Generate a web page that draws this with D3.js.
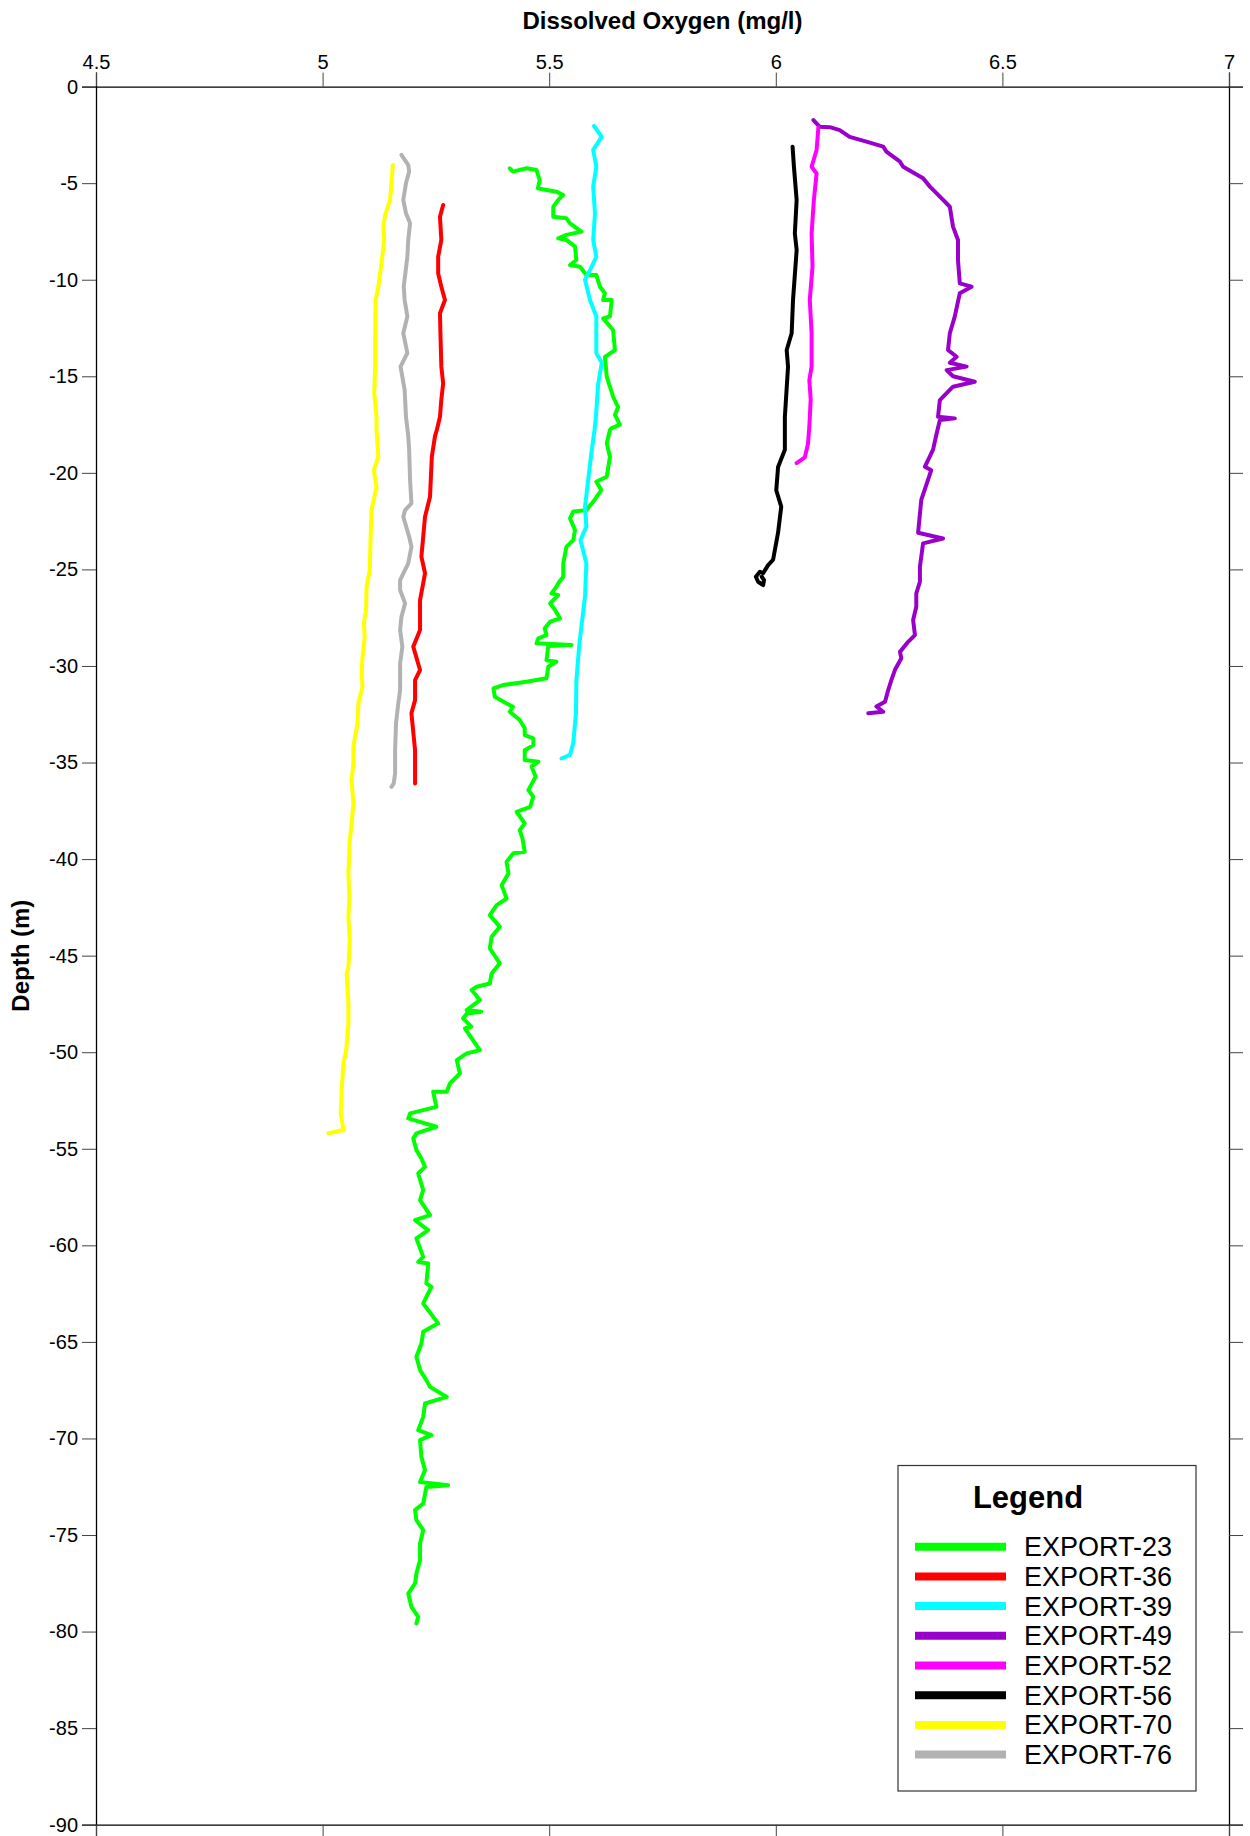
<!DOCTYPE html>
<html>
<head>
<meta charset="utf-8">
<script src="https://cdn.jsdelivr.net/npm/d3@7"></script>
<style>
  html, body { margin: 0; padding: 0; background: #fff; }
  svg { display: block; font-family: "Liberation Sans", Arial, sans-serif; }
</style>
</head>
<body>
<svg id="chart" width="1250" height="1836"></svg>
<script>
// Dissolved oxygen profiles: each entry is [DO (mg/l), depth (m)]
const export23 = [[5.413,-4.23],[5.42,-4.4],[5.45,-4.23],[5.472,-4.32],[5.479,-4.84],[5.475,-5.27],[5.494,-5.35],[5.516,-5.44],[5.531,-5.61],[5.52,-5.87],[5.509,-6.22],[5.509,-6.74],[5.538,-6.82],[5.546,-7.08],[5.571,-7.51],[5.538,-7.68],[5.52,-7.86],[5.538,-7.94],[5.557,-8.29],[5.56,-8.98],[5.546,-9.24],[5.568,-9.33],[5.582,-9.76],[5.604,-9.76],[5.612,-10.36],[5.623,-10.7],[5.619,-11.05],[5.638,-11.05],[5.634,-11.9],[5.619,-12.0],[5.641,-12.6],[5.645,-13.64],[5.623,-14.0],[5.627,-15.02],[5.641,-16.06],[5.652,-16.6],[5.645,-17.0],[5.656,-17.5],[5.637,-17.7],[5.634,-17.78],[5.627,-18.47],[5.634,-19.17],[5.627,-20.2],[5.604,-20.46],[5.615,-20.89],[5.597,-21.5],[5.582,-21.93],[5.553,-22.0],[5.546,-22.36],[5.557,-22.96],[5.553,-23.48],[5.538,-23.83],[5.531,-24.69],[5.531,-25.38],[5.52,-25.72],[5.516,-25.9],[5.505,-26.24],[5.52,-26.33],[5.502,-26.76],[5.513,-27.1],[5.524,-27.54],[5.502,-27.71],[5.49,-28.05],[5.494,-28.4],[5.476,-28.57],[5.472,-28.83],[5.549,-28.92],[5.498,-28.97],[5.494,-29.7],[5.516,-29.78],[5.498,-30.04],[5.494,-30.64],[5.45,-30.82],[5.398,-30.99],[5.377,-31.16],[5.38,-31.6],[5.406,-31.94],[5.42,-32.11],[5.413,-32.37],[5.435,-32.8],[5.446,-33.23],[5.446,-33.58],[5.465,-33.75],[5.465,-34.1],[5.446,-34.36],[5.446,-34.87],[5.476,-34.96],[5.461,-35.2],[5.47,-35.74],[5.454,-36.43],[5.465,-36.77],[5.458,-37.29],[5.428,-37.55],[5.446,-38.15],[5.435,-38.5],[5.441,-38.93],[5.446,-39.62],[5.421,-39.7],[5.406,-40.14],[5.41,-40.74],[5.395,-41.35],[5.406,-42.04],[5.384,-42.38],[5.369,-42.9],[5.391,-43.51],[5.373,-44.02],[5.369,-44.62],[5.391,-45.4],[5.373,-45.92],[5.369,-46.44],[5.34,-46.61],[5.329,-46.78],[5.347,-47.3],[5.318,-47.82],[5.35,-47.9],[5.318,-48.0],[5.31,-48.25],[5.328,-48.68],[5.314,-48.77],[5.347,-49.89],[5.318,-50.06],[5.296,-50.41],[5.303,-51.1],[5.281,-51.62],[5.274,-52.05],[5.244,-52.05],[5.251,-52.83],[5.193,-53.17],[5.189,-53.43],[5.251,-53.86],[5.207,-54.2],[5.2,-54.46],[5.207,-55.07],[5.218,-55.5],[5.226,-55.94],[5.211,-56.28],[5.222,-57.14],[5.215,-57.66],[5.237,-58.44],[5.204,-58.7],[5.233,-59.21],[5.207,-59.64],[5.222,-60.6],[5.211,-60.86],[5.233,-60.94],[5.229,-61.97],[5.24,-62.15],[5.222,-63.01],[5.255,-64.04],[5.222,-64.48],[5.218,-65.08],[5.207,-65.77],[5.215,-66.46],[5.229,-66.98],[5.237,-67.33],[5.274,-67.85],[5.226,-68.19],[5.222,-68.88],[5.211,-69.57],[5.24,-69.83],[5.215,-70.09],[5.218,-70.95],[5.226,-71.64],[5.215,-72.25],[5.277,-72.42],[5.229,-72.51],[5.222,-73.37],[5.204,-73.71],[5.207,-74.23],[5.222,-74.75],[5.215,-75.44],[5.215,-76.3],[5.207,-76.99],[5.204,-77.51],[5.189,-78.03],[5.196,-78.72],[5.211,-79.24],[5.207,-79.58]];

const export36 = [[5.266,-6.13],[5.259,-6.74],[5.262,-7.94],[5.255,-8.81],[5.255,-9.67],[5.262,-10.36],[5.27,-11.05],[5.259,-11.74],[5.26,-12.77],[5.262,-14.5],[5.266,-15.37],[5.262,-16.2],[5.259,-17.1],[5.252,-17.78],[5.248,-18.1],[5.241,-19.17],[5.237,-21.24],[5.226,-22.27],[5.218,-24.34],[5.226,-25.2],[5.215,-26.59],[5.215,-28.14],[5.2,-29.0],[5.215,-30.21],[5.204,-30.73],[5.204,-31.77],[5.196,-32.45],[5.204,-34.36],[5.204,-36.08]];

const export39 = [[5.599,-2.04],[5.616,-2.6],[5.597,-3.28],[5.604,-4.15],[5.597,-5.18],[5.601,-6.56],[5.597,-7.94],[5.604,-8.81],[5.59,-9.5],[5.579,-10.0],[5.59,-11.05],[5.604,-11.9],[5.604,-13.8],[5.616,-14.3],[5.608,-15.4],[5.603,-17.1],[5.6,-17.78],[5.593,-18.99],[5.586,-20.37],[5.579,-21.76],[5.582,-22.79],[5.569,-23.48],[5.582,-24.69],[5.579,-26.42],[5.571,-27.97],[5.566,-29.0],[5.56,-30.73],[5.559,-32.45],[5.553,-34.0],[5.546,-34.6],[5.527,-34.79]];

const export49 = [[6.083,-1.73],[6.097,-2.08],[6.119,-2.1],[6.141,-2.25],[6.163,-2.6],[6.2,-2.85],[6.237,-3.11],[6.244,-3.37],[6.274,-3.89],[6.281,-4.15],[6.325,-4.75],[6.34,-5.18],[6.362,-5.7],[6.384,-6.22],[6.391,-7.25],[6.402,-7.94],[6.402,-8.98],[6.406,-10.19],[6.432,-10.36],[6.406,-10.7],[6.395,-11.9],[6.384,-12.77],[6.38,-13.64],[6.399,-13.99],[6.384,-14.3],[6.421,-14.5],[6.377,-14.68],[6.391,-15.0],[6.439,-15.28],[6.391,-15.54],[6.362,-16.23],[6.358,-17.1],[6.395,-17.18],[6.362,-17.27],[6.355,-17.95],[6.347,-18.8],[6.336,-19.34],[6.329,-19.68],[6.343,-19.86],[6.321,-21.4],[6.314,-23.1],[6.369,-23.4],[6.325,-23.65],[6.318,-24.86],[6.318,-25.64],[6.31,-26.24],[6.31,-26.93],[6.303,-27.62],[6.307,-28.4],[6.292,-28.75],[6.274,-29.27],[6.277,-29.6],[6.263,-30.2],[6.255,-30.73],[6.248,-31.25],[6.241,-31.85],[6.222,-32.1],[6.237,-32.37],[6.204,-32.45]];

const export52 = [[6.094,-2.1],[6.09,-3.28],[6.079,-4.15],[6.09,-4.5],[6.084,-5.87],[6.079,-7.6],[6.081,-9.33],[6.075,-11.05],[6.079,-12.77],[6.079,-14.5],[6.074,-15.2],[6.077,-16.2],[6.074,-17.6],[6.071,-18.5],[6.064,-19.2],[6.046,-19.5]];

const export56 = [[6.037,-3.11],[6.04,-4.15],[6.046,-5.87],[6.042,-7.6],[6.046,-8.46],[6.038,-11.05],[6.035,-12.77],[6.024,-13.64],[6.027,-14.5],[6.02,-17.1],[6.02,-18.8],[6.005,-19.7],[6.001,-20.9],[6.012,-21.75],[6.005,-23.1],[5.994,-24.5],[5.983,-24.78],[5.972,-25.2],[5.965,-25.12],[5.956,-25.38],[5.961,-25.64],[5.972,-25.81],[5.974,-25.55],[5.969,-25.38]];

const export70 = [[5.155,-4.06],[5.149,-5.87],[5.138,-6.65],[5.134,-7.25],[5.136,-7.94],[5.13,-9.15],[5.123,-10.36],[5.117,-11.05],[5.116,-12.77],[5.116,-14.5],[5.114,-15.9],[5.119,-17.1],[5.119,-17.78],[5.123,-19.17],[5.113,-19.86],[5.119,-20.72],[5.108,-21.93],[5.106,-23.31],[5.104,-25.03],[5.097,-25.9],[5.096,-27.1],[5.091,-27.79],[5.093,-28.49],[5.088,-29.52],[5.086,-30.38],[5.088,-31.08],[5.079,-31.94],[5.077,-32.97],[5.068,-34.18],[5.068,-35.04],[5.064,-35.91],[5.068,-37.12],[5.064,-38.15],[5.06,-39.02],[5.057,-40.74],[5.059,-41.95],[5.057,-42.99],[5.06,-44.19],[5.057,-45.58],[5.053,-45.92],[5.057,-47.47],[5.057,-48.51],[5.052,-49.89],[5.046,-50.58],[5.042,-51.96],[5.04,-53.17],[5.046,-54.03],[5.013,-54.2]];

const export76 = [[5.174,-3.54],[5.189,-4.06],[5.191,-4.4],[5.184,-5.0],[5.178,-5.87],[5.184,-6.56],[5.193,-7.08],[5.189,-7.94],[5.187,-8.81],[5.179,-10.36],[5.181,-11.05],[5.187,-11.9],[5.178,-12.77],[5.187,-13.8],[5.172,-14.5],[5.181,-15.7],[5.184,-17.1],[5.189,-18.1],[5.191,-18.82],[5.193,-20.37],[5.196,-21.58],[5.182,-21.93],[5.178,-22.27],[5.191,-23.31],[5.196,-23.83],[5.189,-24.69],[5.171,-25.55],[5.171,-26.07],[5.182,-26.76],[5.174,-27.45],[5.171,-28.14],[5.176,-29.0],[5.171,-29.87],[5.171,-31.25],[5.167,-31.94],[5.162,-32.97],[5.16,-34.36],[5.16,-35.56],[5.157,-36.08],[5.152,-36.26]];

const seriesNames  = ["EXPORT-23","EXPORT-36","EXPORT-39","EXPORT-49","EXPORT-52","EXPORT-56","EXPORT-70","EXPORT-76"];
const seriesData   = [export23, export36, export39, export49, export52, export56, export70, export76];
const seriesColors = ["#00ff00","#ff0000","#00ffff","#9900cc","#ff00ff","#000000","#ffff00","#b2b2b2"];

const xTicks = [4.5, 5, 5.5, 6, 6.5, 7];
const yTicks = [0,-5,-10,-15,-20,-25,-30,-35,-40,-45,-50,-55,-60,-65,-70,-75,-80,-85,-90];

const xTitle = "Dissolved Oxygen (mg/l)";
const yTitle = "Depth (m)";
const legendTitle = "Legend";

// ---- layout ----
const plot = { left: 96, right: 1229, top: 86.6, bottom: 1824.7 };
const tickLen = 14;

const svg = d3.select("#chart");

const x = d3.scaleLinear().domain([4.5, 7]).range([plot.left, plot.right]);
const y = d3.scaleLinear().domain([0, -90]).range([plot.top, plot.bottom]);

// plain hyphen-minus for negative labels
const plainNum = d => String(d);

// Axes: labelled on top and left, bare ticks on bottom and right
const axisTop = d3.axisTop(x).tickValues(xTicks).tickSize(tickLen).tickPadding(4).tickFormat(plainNum);
const axisLeft = d3.axisLeft(y).tickValues(yTicks).tickSize(tickLen).tickPadding(4).tickFormat(plainNum);
const axisBottom = d3.axisBottom(x).tickValues(xTicks).tickSize(tickLen).tickFormat("");
const axisRight = d3.axisRight(y).tickValues(yTicks).tickSize(tickLen).tickFormat("");

function styleAxis(g) {
  g.select(".domain").attr("stroke", "#000").attr("stroke-width", 1.3);
  g.selectAll(".tick line").attr("stroke", "#444").attr("stroke-width", 1);
  g.selectAll(".tick text").attr("fill", "#000")
    .style("font-family", "'Liberation Sans', Arial, sans-serif")
    .style("font-size", "20px");
}

svg.append("g").attr("transform", `translate(0,${plot.top})`).call(axisTop).call(styleAxis);
svg.append("g").attr("transform", `translate(${plot.left},0)`).call(axisLeft).call(styleAxis);
svg.append("g").attr("transform", `translate(0,${plot.bottom})`).call(axisBottom).call(styleAxis);
svg.append("g").attr("transform", `translate(${plot.right},0)`).call(axisRight).call(styleAxis);

// Axis titles
svg.append("text")
  .attr("x", (plot.left + plot.right) / 2).attr("y", 29)
  .attr("text-anchor", "middle")
  .style("font-size", "24px").style("font-weight", "bold")
  .text(xTitle);

svg.append("text")
  .attr("transform", `translate(29,${(plot.top + plot.bottom) / 2}) rotate(-90)`)
  .attr("text-anchor", "middle")
  .style("font-size", "24px").style("font-weight", "bold")
  .text(yTitle);

// Profiles
const line = d3.line().x(d => x(d[0])).y(d => y(d[1]));
const profiles = svg.append("g");
seriesData.forEach((data, i) => {
  profiles.append("path")
    .datum(data)
    .attr("d", line)
    .attr("fill", "none")
    .attr("stroke", seriesColors[i])
    .attr("stroke-width", 4)
    .attr("stroke-linejoin", "round")
    .attr("stroke-linecap", "round");
});

// Legend
const lg = svg.append("g");
lg.append("rect")
  .attr("x", 898).attr("y", 1465.5).attr("width", 298).attr("height", 325.5)
  .attr("fill", "#fff").attr("stroke", "#333").attr("stroke-width", 1.2);
lg.append("text")
  .attr("x", 1028).attr("y", 1508)
  .attr("text-anchor", "middle")
  .style("font-size", "31px").style("font-weight", "bold")
  .text(legendTitle);
seriesNames.forEach((name, i) => {
  const cy = 1546.7 + i * 29.7;
  lg.append("line")
    .attr("x1", 915).attr("x2", 1006).attr("y1", cy).attr("y2", cy)
    .attr("stroke", seriesColors[i]).attr("stroke-width", 8);
  lg.append("text")
    .attr("x", 1024).attr("y", cy + 9.5)
    .style("font-size", "27px")
    .text(name);
});
</script>
</body>
</html>
